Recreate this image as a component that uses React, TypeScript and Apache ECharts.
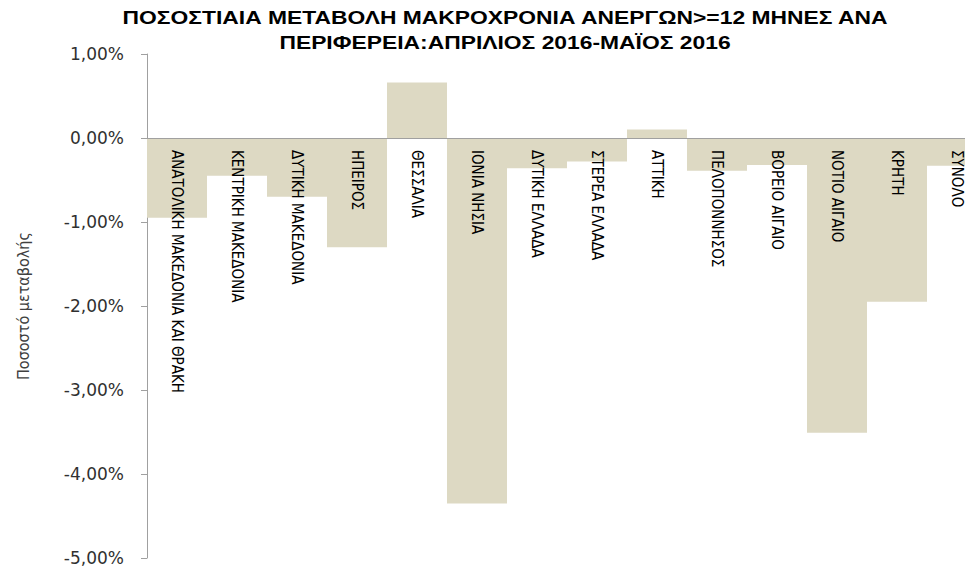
import React, { useEffect, useRef } from "react";
import * as echarts from "echarts";

const categories = [
  "ΑΝΑΤΟΛΙΚΗ ΜΑΚΕΔΟΝΙΑ ΚΑΙ ΘΡΑΚΗ",
  "ΚΕΝΤΡΙΚΗ ΜΑΚΕΔΟΝΙΑ",
  "ΔΥΤΙΚΗ ΜΑΚΕΔΟΝΙΑ",
  "ΗΠΕΙΡΟΣ",
  "ΘΕΣΣΑΛΙΑ",
  "ΙΟΝΙΑ ΝΗΣΙΑ",
  "ΔΥΤΙΚΗ ΕΛΛΑΔΑ",
  "ΣΤΕΡΕΑ ΕΛΛΑΔΑ",
  "ΑΤΤΙΚΗ",
  "ΠΕΛΟΠΟΝΝΗΣΟΣ",
  "ΒΟΡΕΙΟ ΑΙΓΑΙΟ",
  "ΝΟΤΙΟ ΑΙΓΑΙΟ",
  "ΚΡΗΤΗ",
  "ΣΥΝΟΛΟ",
];

const changePct = [
  -0.95, -0.45, -0.7, -1.3, 0.66, -4.35, -0.36, -0.28, 0.1, -0.39, -0.32, -3.51,
  -1.95, -0.33,
];

const titleText =
  "ΠΟΣΟΣΤΙΑΙΑ ΜΕΤΑΒΟΛΗ ΜΑΚΡΟΧΡΟΝΙΑ ΑΝΕΡΓΩΝ>=12 ΜΗΝΕΣ ΑΝΑ\nΠΕΡΙΦΕΡΕΙΑ:ΑΠΡΙΛΙΟΣ 2016-ΜΑΪΟΣ 2016";
const yAxisName = "Ποσοστό μεταβολής";

export default function App() {
  const ref = useRef<HTMLDivElement>(null);
  useEffect(() => {
    if (!ref.current) return;
    const chart = echarts.init(ref.current, null, { renderer: "svg" });
    chart.setOption({
      animation: false,
      backgroundColor: "#ffffff",
      graphic: [
        {
          type: "text",
          x: 505,
          y: 5,
          scaleX: 1.27,
          style: {
            text: titleText,
            textAlign: "center",
            fontFamily: "Liberation Sans",
            fontWeight: "bold",
            fontSize: 18,
            lineHeight: 25,
            fill: "#000000",
          },
        },
      ],
      grid: {
        left: 147,
        right: -22,
        top: 54,
        bottom: 11,
        containLabel: false,
        outerBoundsMode: "none",
      },
      xAxis: {
        type: "category",
        data: categories,
        z: 10,
        axisLine: { onZero: true, lineStyle: { color: "#a0a0a0", width: 1 } },
        axisTick: { show: false },
        axisLabel: {
          rotate: -90,
          interval: 0,
          margin: -408,
          color: "#000000",
          fontFamily: "DejaVu Sans Condensed, Liberation Sans",
          fontSize: 15,
        },
      },
      yAxis: {
        type: "value",
        min: -5,
        max: 1,
        interval: 1,
        name: yAxisName,
        nameLocation: "middle",
        nameGap: 116,
        nameTextStyle: {
          fontFamily: "DejaVu Sans Condensed, Liberation Sans",
          fontSize: 16,
          color: "#404040",
        },
        axisLine: { show: true, lineStyle: { color: "#a0a0a0", width: 1 } },
        axisTick: { show: true, length: 6, lineStyle: { color: "#a0a0a0" } },
        splitLine: { show: false },
        axisLabel: {
          margin: 23,
          color: "#303030",
          fontFamily: "DejaVu Sans",
          fontSize: 17,
          formatter: (v: number) => (Math.round(v * 100) / 100).toFixed(2).replace(".", ",") + "%",
        },
      },
      series: [
        {
          type: "bar",
          data: changePct,
          barCategoryGap: "0%",
          itemStyle: { color: "#ddd9c3" },
        },
      ],
    });
    return () => chart.dispose();
  }, []);
  return <div ref={ref} style={{ width: 965, height: 569, position: "absolute", left: 0, top: 0 }} />;
}
